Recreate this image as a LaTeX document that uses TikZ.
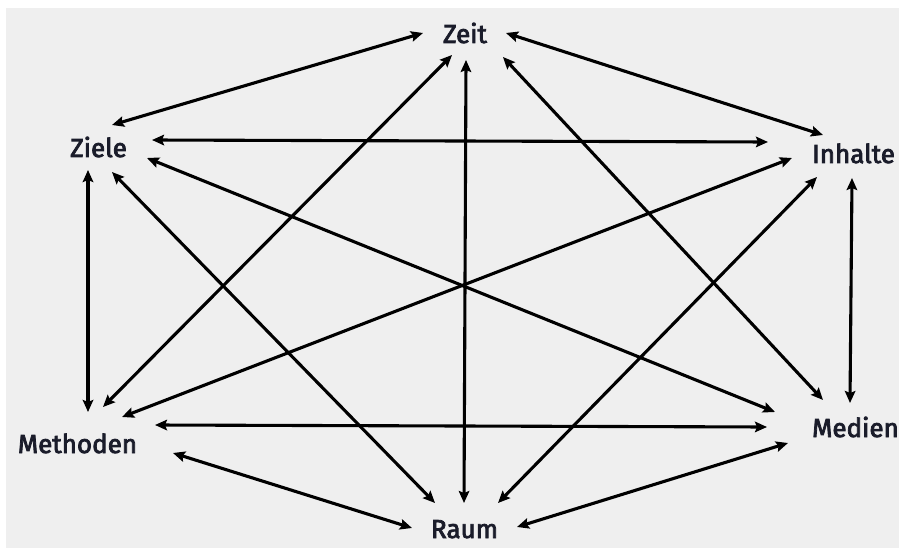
\documentclass[tikz,border=0pt]{standalone}
\usepackage{fontspec}
\setmainfont{Fira Sans}
\newfontfamily\lblfont{Fira Sans}[UprightFeatures={FakeBold=3}]
\usetikzlibrary{arrows.meta,calc}
\definecolor{bg}{HTML}{EFEFEF}
\definecolor{txt}{HTML}{1A1C2A}
\tikzset{
  lbl/.style={anchor=base, inner sep=0pt, text=txt, font=\fontsize{26}{30}\lblfont},
  arr/.style={line width=3.1pt, {Stealth[length=12pt,width=10.5pt,inset=2pt]}-{Stealth[length=12pt,width=10.5pt,inset=2pt]}}
}
\begin{document}
\begin{tikzpicture}[x=1pt,y=-1pt]
\useasboundingbox (0,0) rectangle (899,548);
\fill[bg] (6,8) rectangle (899,548);
\node[lbl] (Zeit) at (465,43) {Zeit};
\node[lbl] (Ziele) at (98.5,157) {Ziele};
\node[lbl] (Inhalte) at (853.5,163) {Inhalte};
\node[lbl] (Methoden) at (77.5,453) {Methoden};
\node[lbl] (Medien) at (855.5,437) {Medien};
\node[lbl] (Raum) at (464.5,538) {Raum};
\draw[arr] ($(Ziele.base)+(13.5,-32)$) -- ($(Zeit.base)+(-42,-10)$);
\draw[arr] ($(Zeit.base)+(41,-10)$) -- ($(Inhalte.base)+(-30.5,-28)$);
\draw[arr] ($(Zeit.base)+(-13,12)$) -- ($(Methoden.base)+(25.5,-46)$);
\draw[arr] ($(Zeit.base)+(1,17)$) -- ($(Raum.base)+(-0.5,-35)$);
\draw[arr] ($(Zeit.base)+(38,14)$) -- ($(Medien.base)+(-32.5,-37)$);
\draw[arr] ($(Ziele.base)+(53.5,-17)$) -- ($(Inhalte.base)+(-85.5,-21)$);
\draw[arr] ($(Ziele.base)+(48.5,1)$) -- ($(Medien.base)+(-80.5,-25)$);
\draw[arr] ($(Ziele.base)+(13.5,15)$) -- ($(Raum.base)+(-29.5,-35)$);
\draw[arr] ($(Ziele.base)+(-10.5,13)$) -- ($(Methoden.base)+(10.5,-41)$);
\draw[arr] ($(Inhalte.base)+(-61.5,-5)$) -- ($(Methoden.base)+(44.5,-36)$);
\draw[arr] ($(Inhalte.base)+(-36.5,14)$) -- ($(Raum.base)+(33.5,-35)$);
\draw[arr] ($(Inhalte.base)+(-1.5,15)$) -- ($(Medien.base)+(-5.5,-34)$);
\draw[arr] ($(Methoden.base)+(77.5,-28)$) -- ($(Medien.base)+(-88.5,-10)$);
\draw[arr] ($(Methoden.base)+(95.5,0)$) -- ($(Raum.base)+(-52.5,-10)$);
\draw[arr] ($(Medien.base)+(-67.5,6)$) -- ($(Raum.base)+(52.5,-11)$);
\end{tikzpicture}
\end{document}
